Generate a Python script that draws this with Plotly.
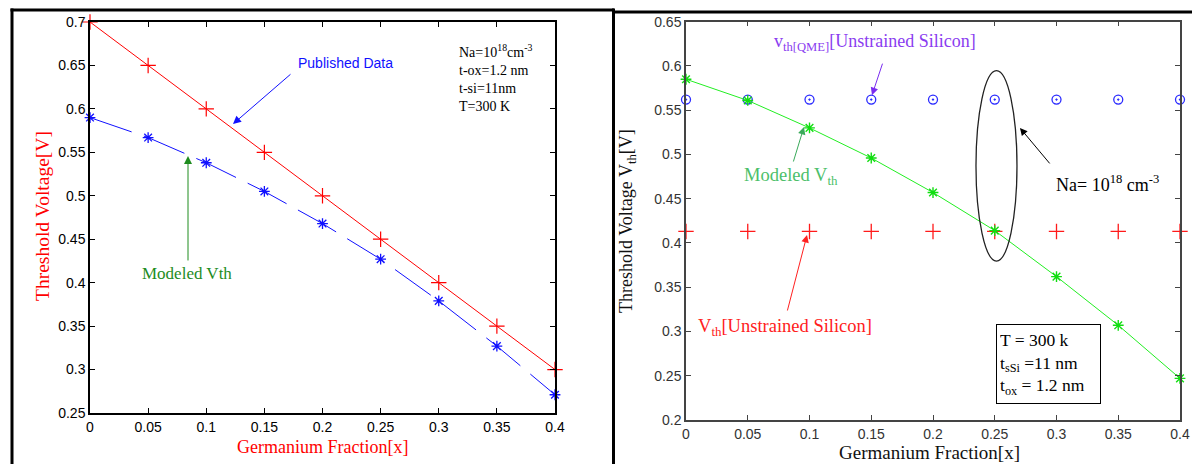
import plotly.graph_objects as go

# ---------------- data ----------------
x_frac = [0, 0.05, 0.1, 0.15, 0.2, 0.25, 0.3, 0.35, 0.4]

# left panel
published_vth = [0.70, 0.65, 0.60, 0.55, 0.50, 0.45, 0.40, 0.35, 0.30]
modeled_vth_left = [0.590, 0.567, 0.538, 0.505, 0.468, 0.427, 0.379, 0.327, 0.271]

# right panel
qme_unstrained = [0.562] * 9
vth_unstrained = [0.413] * 9
modeled_vth_right = [0.585, 0.561, 0.530, 0.496, 0.457, 0.414, 0.362, 0.307, 0.247]

x_tickvals = [0, 0.05, 0.1, 0.15, 0.2, 0.25, 0.3, 0.35, 0.4]
x_ticktext = ["0", "0.05", "0.1", "0.15", "0.2", "0.25", "0.3", "0.35", "0.4"]
yl_tickvals = [0.25, 0.3, 0.35, 0.4, 0.45, 0.5, 0.55, 0.6, 0.65, 0.7]
yl_ticktext = ["0.25", "0.3", "0.35", "0.4", "0.45", "0.5", "0.55", "0.6", "0.65", "0.7"]
yr_tickvals = [0.2, 0.25, 0.3, 0.35, 0.4, 0.45, 0.5, 0.55, 0.6, 0.65]
yr_ticktext = ["0.2", "0.25", "0.3", "0.35", "0.4", "0.45", "0.5", "0.55", "0.6", "0.65"]

W, H = 1192, 464
SERIF = "Liberation Serif, Times New Roman, serif"
SANS = "Liberation Sans, Arial, sans-serif"


def px(v):
    return v / W


def py(v):
    return 1 - v / H


fig = go.Figure()

# ---- left panel traces ----
fig.add_trace(go.Scatter(
    x=x_frac, y=published_vth, mode="lines+markers",
    line=dict(color="#ff0000", width=1),
    marker=dict(symbol="cross-thin", size=11, line=dict(color="#ff0000", width=1.2)),
    xaxis="x", yaxis="y", cliponaxis=False, showlegend=False))
fig.add_trace(go.Scatter(
    x=x_frac, y=modeled_vth_left, mode="lines+markers",
    line=dict(color="#1010ff", width=1, dash="44px,13px"),
    marker=dict(symbol="asterisk", size=9, line=dict(color="#1010ff", width=1.3)),
    xaxis="x", yaxis="y", cliponaxis=False, showlegend=False))

# ---- right panel traces ----
fig.add_trace(go.Scatter(
    x=x_frac, y=qme_unstrained, mode="markers",
    marker=dict(symbol="circle-open-dot", size=9, color="#2a2aff", line=dict(color="#2a2aff", width=1.3)),
    xaxis="x2", yaxis="y2", cliponaxis=False, showlegend=False))
fig.add_trace(go.Scatter(
    x=x_frac, y=vth_unstrained, mode="markers",
    marker=dict(symbol="cross-thin", size=11, line=dict(color="#ff1a1a", width=1.3)),
    xaxis="x2", yaxis="y2", cliponaxis=False, showlegend=False))
fig.add_trace(go.Scatter(
    x=x_frac, y=modeled_vth_right, mode="lines+markers",
    line=dict(color="#22ee22", width=1),
    marker=dict(symbol="asterisk", size=9, line=dict(color="#11dd11", width=1.4)),
    xaxis="x2", yaxis="y2", cliponaxis=False, showlegend=False))

axis_common = dict(ticks="inside", ticklen=5, showline=True, mirror="ticks",
                   showgrid=False, zeroline=False, automargin=False)

fig.update_layout(
    width=W, height=H,
    margin=dict(l=0, r=0, t=0, b=0, pad=0, autoexpand=False),
    paper_bgcolor="white", plot_bgcolor="white",
    showlegend=False,
    xaxis=dict(domain=[px(90), px(555)], range=[0, 0.4], anchor="y",
               tickvals=x_tickvals, ticktext=x_ticktext,
               linecolor="black", linewidth=1.5, tickcolor="black",
               tickfont=dict(family=SANS, size=14, color="black"), **axis_common),
    yaxis=dict(domain=[py(413), py(22)], range=[0.25, 0.7], anchor="x",
               tickvals=yl_tickvals, ticktext=yl_ticktext,
               linecolor="black", linewidth=1.5, tickcolor="black",
               tickfont=dict(family=SANS, size=14, color="black"), **axis_common),
    xaxis2=dict(domain=[px(686), px(1180)], range=[0, 0.4], anchor="y2",
                tickvals=x_tickvals, ticktext=x_ticktext,
                linecolor="#444", linewidth=1.5, tickcolor="#444",
                tickfont=dict(family=SANS, size=14, color="#333"), **axis_common),
    yaxis2=dict(domain=[py(420), py(21.7)], range=[0.2, 0.65], anchor="x2",
                tickvals=yr_tickvals, ticktext=yr_ticktext,
                linecolor="#444", linewidth=1.5, tickcolor="#444",
                tickfont=dict(family=SANS, size=14, color="#333"), **axis_common),
)

ann = []
# axis titles
ann.append(dict(text="Threshold Voltage[V]", x=px(43), y=py(216), xref="paper", yref="paper",
                xanchor="center", yanchor="middle",
                textangle=-90, showarrow=False, font=dict(family=SERIF, size=19.5, color="#ff0000")))
ann.append(dict(text="Germanium Fraction[x]", x=px(322), y=py(447), xref="paper", yref="paper",
                xanchor="center", yanchor="middle",
                showarrow=False, font=dict(family=SERIF, size=18, color="#ff0000")))
ann.append(dict(text="Threshold Voltage V<sub>th</sub>[V]", x=px(628), y=py(221), xref="paper", yref="paper",
                xanchor="center", yanchor="middle",
                textangle=-90, showarrow=False, font=dict(family=SERIF, size=18, color="#111")))
ann.append(dict(text="Germanium Fraction[x]", x=px(929), y=py(452), xref="paper", yref="paper",
                xanchor="center", yanchor="middle",
                showarrow=False, font=dict(family=SERIF, size=19, color="#111")))

# left panel annotations
ann.append(dict(text="Published Data", x=px(345), y=py(63), xref="paper", yref="paper",
                xanchor="center", yanchor="middle",
                showarrow=False, font=dict(family=SANS, size=14, color="#1010ff")))
ann.append(dict(text="", x=0.123, y=0.5826, xref="x", yref="y", ax=59, ay=-51,
                showarrow=True, arrowhead=2, arrowsize=1.6, arrowwidth=1, arrowcolor="#1010ff"))
ann.append(dict(text="Modeled Vth", x=px(187), y=py(273), xref="paper", yref="paper",
                xanchor="center", yanchor="middle",
                showarrow=False, font=dict(family=SERIF, size=17, color="#1e8c1e")))
ann.append(dict(text="", x=0.0843, y=0.5458, xref="x", yref="y", ax=0, ay=106,
                showarrow=True, arrowhead=2, arrowsize=1.6, arrowwidth=1, arrowcolor="#1e8c1e"))
ann.append(dict(text="Na=10<sup>18</sup>cm<sup>-3</sup><br>t-ox=1.2 nm<br>t-si=11nm<br>T=300 K",
                x=px(457), y=py(40), xref="paper", yref="paper", xanchor="left", yanchor="top",
                align="left", showarrow=False, font=dict(family=SERIF, size=14, color="black")))

# right panel annotations
ann.append(dict(text="v<sub>th[QME]</sub>[Unstrained Silicon]", x=px(772), y=py(43), xref="paper", yref="paper",
                xanchor="left", yanchor="middle", showarrow=False, font=dict(family=SERIF, size=18, color="#8a3cf0")))
ann.append(dict(text="", x=0.1506, y=0.567, xref="x2", yref="y2", ax=11, ay=-33,
                showarrow=True, arrowhead=2, arrowsize=1.5, arrowwidth=1, arrowcolor="#7a2cf0"))
ann.append(dict(text="Modeled V<sub>th</sub>", x=px(742), y=py(176), xref="paper", yref="paper",
                xanchor="left", yanchor="middle", showarrow=False, font=dict(family=SERIF, size=18.5, color="#4cbf6a")))
ann.append(dict(text="", x=0.0955, y=0.531, xref="x2", yref="y2", ax=-11, ay=36,
                showarrow=True, arrowhead=2, arrowsize=1.5, arrowwidth=1, arrowcolor="#3aaa5a"))
ann.append(dict(text="V<sub>th</sub>[Unstrained Silicon]", x=px(696), y=py(327), xref="paper", yref="paper",
                xanchor="left", yanchor="middle", showarrow=False, font=dict(family=SERIF, size=18.5, color="#ff2020")))
ann.append(dict(text="", x=0.098, y=0.409, xref="x2", yref="y2", ax=-20, ay=77,
                showarrow=True, arrowhead=2, arrowsize=1.5, arrowwidth=1, arrowcolor="#ff2020"))
ann.append(dict(text="Na= 10<sup>18</sup> cm<sup>-3</sup>", x=px(1054), y=py(183), xref="paper", yref="paper",
                xanchor="left", yanchor="middle", showarrow=False, font=dict(family=SERIF, size=18, color="black")))
ann.append(dict(text="", x=0.2704, y=0.530, xref="x2", yref="y2", ax=31, ay=37,
                showarrow=True, arrowhead=2, arrowsize=1.5, arrowwidth=1, arrowcolor="black"))
ann.append(dict(text="T = 300 k<br>t<sub>sSi</sub> =11 nm<br>t<sub>ox</sub> = 1.2 nm",
                x=px(1048.5), y=py(364), xref="paper", yref="paper",
                xanchor="center", yanchor="middle",
                width=97, height=72, align="left", valign="middle",
                bordercolor="black", borderwidth=1, borderpad=3, bgcolor="white",
                showarrow=False, font=dict(family=SERIF, size=17.5, color="black")))

fig.update_layout(annotations=ann)

shapes = []
# ellipse
shapes.append(dict(type="circle", xref="x2", yref="y2", x0=0.2348, x1=0.268, y0=0.3796, y1=0.5947,
                   line=dict(color="#222", width=1.3)))
# panel frames (kept inside the paper)
frame = dict(color="black", width=3)
shapes.append(dict(type="line", xref="paper", yref="paper", x0=px(10.5), x1=px(614), y0=py(10), y1=py(10), line=frame))
shapes.append(dict(type="line", xref="paper", yref="paper", x0=px(12), x1=px(12), y0=py(8.5), y1=0, line=frame))
shapes.append(dict(type="line", xref="paper", yref="paper", x0=px(613.5), x1=px(613.5), y0=py(8.5), y1=0, line=frame))
shapes.append(dict(type="line", xref="paper", yref="paper", x0=px(613), x1=1, y0=py(12), y1=py(12), line=frame))
fig.update_layout(shapes=shapes)

fig.write_html("out.html")
